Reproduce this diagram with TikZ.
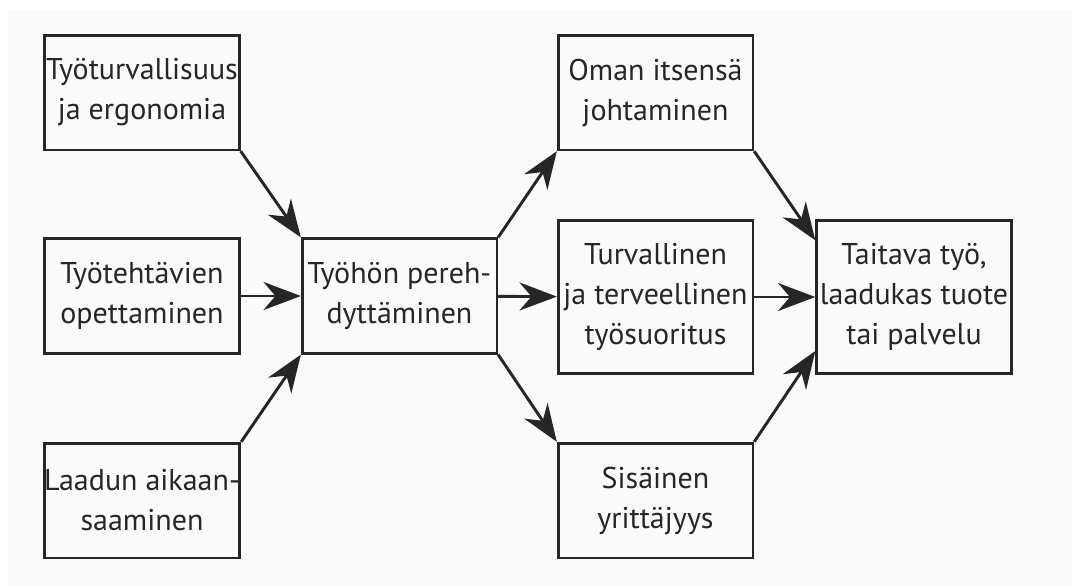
\documentclass[tikz,border=0pt]{standalone}
\usepackage{fontspec}
\setmainfont{PT Sans}
\usetikzlibrary{arrows.meta}

\tikzset{
  box/.style={draw=black!85, line width=2pt, align=center, inner sep=0pt,
    minimum width=146pt, font=\fontsize{22.5}{30}\selectfont, text=black!85},
  flow/.style={draw=black!85, line width=2.2pt,
    -{Stealth[length=28pt, width=21pt, inset=9pt]}}
}

\begin{document}
\begin{tikzpicture}[x=0.75pt, y=-0.75pt]
        \useasboundingbox (0,0) rectangle (1072,586);
        \fill[black!2] (8,11) rectangle (1072,586);
        % left column
        \node[box, minimum height=86pt] (safety) at (142,92.5) {Työturvallisuus\\ja ergonomia};
        \node[box, minimum height=86pt] (tasks) at (142,296) {Työtehtävien\\opettaminen};
        \node[box, minimum height=86pt] (quality) at (142,500.5) {Laadun aikaan-\\saaminen};
        % middle
        \node[box, minimum height=86pt] (intro) at (399.5,296) {Työhön pereh-\\dyttäminen};
        % right column
        \node[box, minimum height=86pt] (self) at (655.5,92.5) {Oman itsensä\\johtaminen};
        \node[box, minimum height=115pt] (healthy) at (655.5,297) {Turvallinen\\ja terveellinen\\työsuoritus};
        \node[box, minimum height=86pt] (entre) at (655.5,500.5) {Sisäinen\\yrittäjyys};
        % result
        \node[box, minimum height=115pt] (result) at (914,297) {Taitava työ,\\laadukas tuote\\tai palvelu};

        \draw[flow] (safety.south east) -- (intro.north west);
        \draw[flow] (tasks) -- (intro);
        \draw[flow] (quality.north east) -- (intro.south west);
        \draw[flow] (intro.north east) -- (self.south west);
        \draw[flow] (intro) -- (healthy);
        \draw[flow] (intro.south east) -- (entre.north west);
        \draw[flow] (self.south east) -- ([yshift=-16pt]result.north west);
        \draw[flow] (healthy) -- (result);
        \draw[flow] (entre.north east) -- ([yshift=18pt]result.south west);
      \end{tikzpicture}
\end{document}
